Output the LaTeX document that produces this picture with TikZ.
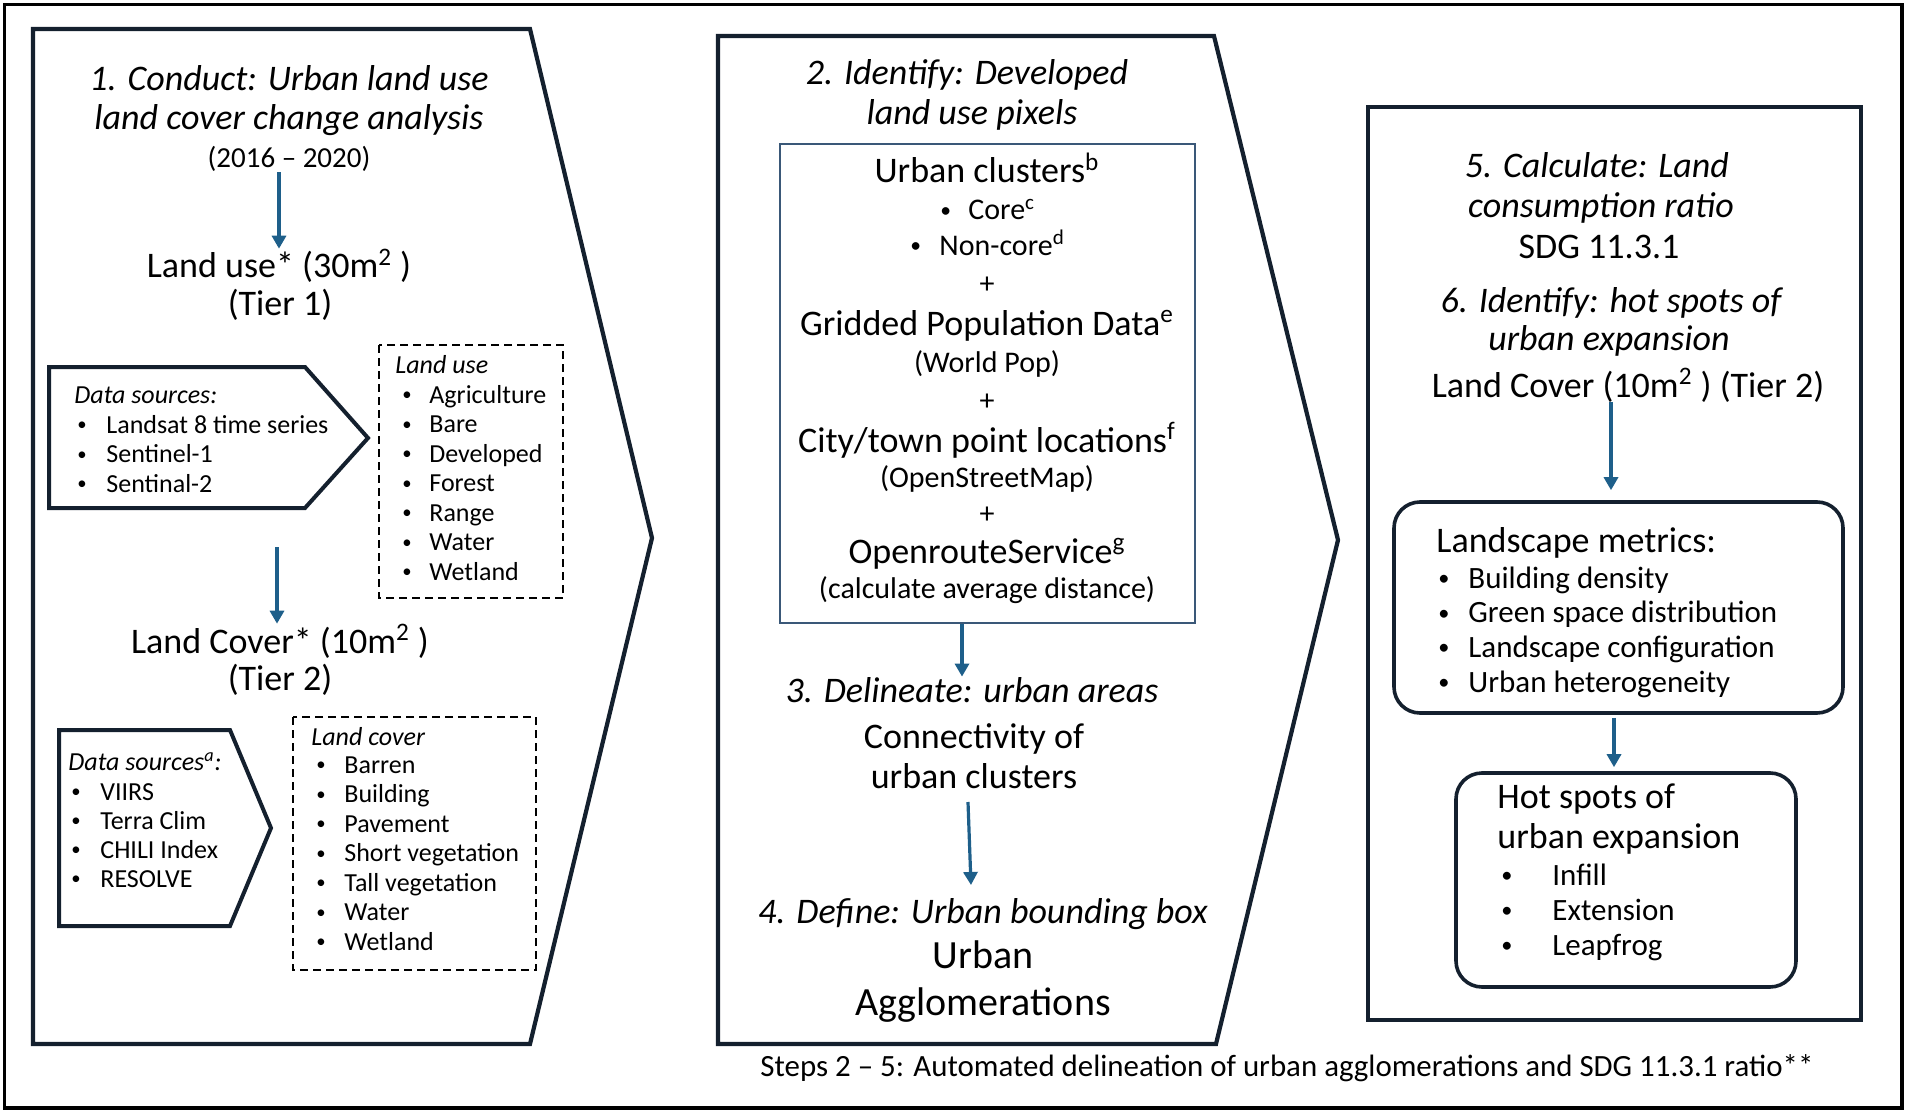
\documentclass[tikz,border=0pt]{standalone}
\usepackage{fontspec}
\usepackage{graphicx}
\setmainfont{Carlito}
\usetikzlibrary{arrows.meta}
\definecolor{dk}{HTML}{14202E}
\definecolor{ab}{HTML}{1E5F8A}
\definecolor{ib}{HTML}{3A5878}
\newcommand{\mybul}{\raisebox{0.08em}{\scalebox{0.72}{\textbullet}}}
\newcommand{\myitem}[2]{\makebox[#1][l]{\mybul}#2}
\tikzset{
  panel/.style={draw=dk, line width=2.1pt, line join=miter},
  srcbox/.style={draw=dk, line width=2pt, line join=miter},
  dbox/.style={draw=black, line width=0.8pt, dash pattern=on 4pt off 2.5pt},
  rbox/.style={draw=dk, line width=1.8pt, rounded corners=13pt, inner sep=0pt},
  arr/.style={draw=ab, line width=1.6pt, -{Triangle[length=6.5pt,width=7pt]}},
  tx/.style={anchor=base, inner sep=0pt, text=black},
  ti/.style={tx, font=\fontsize{18}{20}\selectfont\itshape},
  tm/.style={tx, font=\fontsize{18}{20}\selectfont},
  tsm/.style={tx, font=\fontsize{15}{17}\selectfont},
  tbig/.style={tx, font=\fontsize{20}{22}\selectfont},
  li/.style={anchor=base west, inner sep=0pt, font=\fontsize{13}{15}\selectfont},
  lit/.style={anchor=base west, inner sep=0pt, font=\fontsize{13}{15}\selectfont\itshape},
  ri/.style={anchor=base west, inner sep=0pt, font=\fontsize{15.5}{17}\selectfont},
  rh/.style={anchor=base west, inner sep=0pt, font=\fontsize{18}{20}\selectfont},
}
\begin{document}
\begin{tikzpicture}[x=0.5pt,y=-0.5pt]
\useasboundingbox (0,0) rectangle (1907,1113);
% outer frame
\draw[draw=black, line width=1.6pt] (4.5,4.5) rectangle (1902,1108);
% panels
\draw[panel] (33,29) -- (530,29) -- (652,538) -- (530,1044) -- (33,1044) -- cycle;
\draw[panel] (718,36) -- (1214,36) -- (1338,540) -- (1216,1044) -- (718,1044) -- cycle;
\node[draw=dk, line width=2.1pt, minimum width=246.5pt, minimum height=456.5pt, inner sep=0pt] (rpanel) at (1614.5,563.5) {};

% ---------- left panel ----------
\node[ti] (t1a) at (289,91) {1. Conduct: Urban land use};
\node[ti] (t1b) at (289,130) {land cover change analysis};
\node[tx, font=\fontsize{14.5}{16}\selectfont] (t1c) at (289,168) {(2016 – 2020)};
\node[tm] (lu1) at (279,278) {Land use* (30m\textsuperscript{2} )};
\node[tm] (lu2) at (280,315) {(Tier 1)};
\draw[arr] (t1c.south -| lu1.north) -- (lu1.north);

\draw[srcbox] (49,367) -- (305,367) -- (368,438) -- (305,508) -- (49,508) -- cycle;
\node[lit] (ds1) at (74,403) {Data sources:};
\foreach \t [count=\i] in {Landsat 8 time series, Sentinel-1, Sentinal-2}
  \node[li] (dsa\i) at (77,{433+(\i-1)*29.5}) {\myitem{14.5pt}{\t}};

\draw[dbox] (379,345) rectangle (563,598);
\node[lit] (lub) at (395,373) {Land use};
\foreach \t [count=\i] in {Agriculture, Bare, Developed, Forest, Range, Water, Wetland}
  \node[li] (lui\i) at (402,{403+(\i-1)*29.5}) {\myitem{13.5pt}{\t}};

\coordinate (a2) at (277,547);
\node[tm] (lc1) at (280,653) {Land Cover* (10m\textsuperscript{2} )};
\node[tm] (lc2) at (280,690) {(Tier 2)};
\draw[arr] (a2) -- (lc1.north -| a2);

\draw[srcbox] (59,730) -- (230,730) -- (271,828) -- (230,926) -- (59,926) -- cycle;
\node[lit] (ds2) at (68,770) {Data sources\textsuperscript{a}:};
\foreach \t [count=\i] in {VIIRS, Terra Clim, CHILI Index, RESOLVE}
  \node[li] (dsb\i) at (71,{800+(\i-1)*29}) {\myitem{14.5pt}{\t}};

\draw[dbox] (293,717) rectangle (536,970);
\node[lit] (lcb) at (311,745) {Land cover};
\foreach \t [count=\i] in {Barren, Building, Pavement, Short vegetation, Tall vegetation, Water, Wetland}
  \node[li] (lci\i) at (316,{773+(\i-1)*29.5}) {\myitem{14pt}{\t}};

% ---------- middle panel ----------
\node[ti] (t2a) at (967,85) {2. Identify: Developed};
\node[ti] (t2b) at (972,125) {land use pixels};
\node[draw=ib, line width=1pt, minimum width=207.5pt, minimum height=239.5pt, inner sep=0pt] (ibox) at (987.5,383.5) {};
\node[tm] (uc) at (987,183) {Urban clusters\textsuperscript{b}};
\node[anchor=base west, inner sep=0pt, font=\fontsize{15}{17}\selectfont] (core) at (940,220) {\myitem{14pt}{Core\textsuperscript{c}}};
\node[anchor=base west, inner sep=0pt, font=\fontsize{15}{17}\selectfont] (ncore) at (910,255) {\myitem{14.5pt}{Non-core\textsuperscript{d}}};
\node[tx, anchor=center, font=\fontsize{15}{17}\selectfont] (p1) at (987,285) {+};
\node[tm] (gp) at (987,335) {Gridded Population Data\textsuperscript{e}};
\node[tsm] (wp) at (987,372) {(World Pop)};
\node[tx, anchor=center, font=\fontsize{15}{17}\selectfont] (p2) at (987,402) {+};
\node[tm] (ct) at (987,452) {City/town point locations\textsuperscript{f}};
\node[tsm] (osm) at (987,487) {(OpenStreetMap)};
\node[tx, anchor=center, font=\fontsize{15}{17}\selectfont] (p3) at (987,515) {+};
\node[tm] (ors) at (987,563) {OpenrouteService\textsuperscript{g}};
\node[tsm] (cad) at (987,598) {(calculate average distance)};

\coordinate (a3) at (962,0);
\node[ti] (t3a) at (972,702) {3. Delineate: urban areas};
\node[tm] (t3b) at (974,748) {Connectivity of};
\node[tm] (t3c) at (974,788) {urban clusters};
\draw[arr] (ibox.south -| a3) -- (t3a.north -| a3);

\coordinate (a4s) at (968,802);
\coordinate (a4e) at (971,885);
\draw[arr] (a4s) -- (a4e);
\node[ti] (t4a) at (983,923) {4. Define: Urban bounding box};
\node[tbig] (t4b) at (983,968) {Urban};
\node[tbig] (t4c) at (983,1015) {Agglomerations};

% ---------- right panel ----------
\node[ti] (r5a) at (1597,177) {5. Calculate: Land};
\node[ti] (r5b) at (1601,217) {consumption ratio};
\node[tm] (r5c) at (1599,258) {SDG 11.3.1};
\node[ti] (r6a) at (1611,312) {6. Identify: hot spots of};
\node[ti] (r6b) at (1609,350) {urban expansion};
\node[tm] (r6c) at (1628,397) {Land Cover (10m\textsuperscript{2} ) (Tier 2)};

\node[rbox, minimum width=224.5pt, minimum height=105.5pt] (lm) at (1618.5,607.5) {};
\coordinate (a5) at (1611,0);
\draw[arr] (r6c.south -| a5) -- ([yshift=5pt]lm.north -| a5);
\node[rh] (lmh) at (1436,552) {Landscape metrics:};
\foreach \t [count=\i] in {Building density, Green space distribution, Landscape configuration, Urban heterogeneity}
  \node[ri] (lmi\i) at (1438,{588+(\i-1)*34.7}) {\myitem{15pt}{\t}};

\node[rbox, minimum width=170pt, minimum height=107pt] (hs) at (1626,880) {};
\coordinate (a6) at (1614,0);
\draw[arr] ([yshift=-1.5pt]lm.south -| a6) -- ([yshift=2pt]hs.north -| a6);
\node[rh] (hsh1) at (1497,808) {Hot spots of};
\node[rh] (hsh2) at (1497,848) {urban expansion};
\foreach \t [count=\i] in {Infill, Extension, Leapfrog}
  \node[ri] (hsi\i) at (1501,{885+(\i-1)*35}) {\myitem{25.5pt}{\t}};

% caption
\node[tx, font=\fontsize{15.45}{17}\selectfont] (cap) at (1287,1076) {Steps 2 – 5: Automated delineation of urban agglomerations and SDG 11.3.1 ratio**};
\end{tikzpicture}
\end{document}
